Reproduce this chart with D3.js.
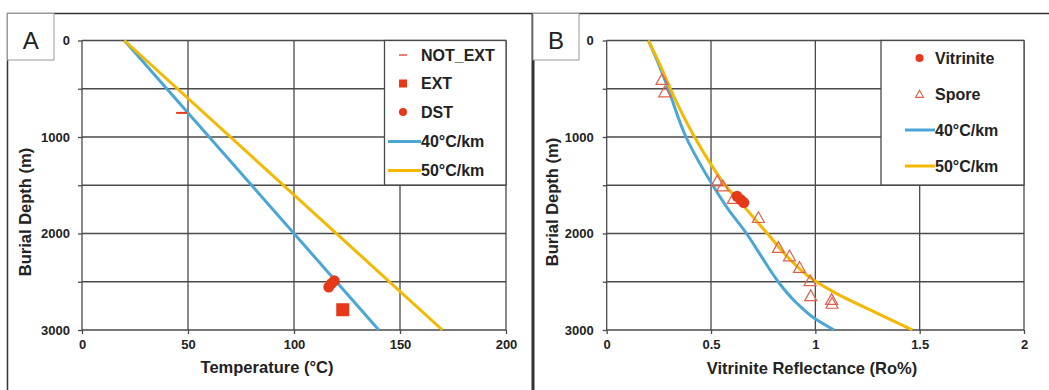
<!DOCTYPE html>
<html>
<head>
<meta charset="utf-8">
<script src="https://cdn.jsdelivr.net/npm/d3@7"></script>
<style>
  body { margin: 0; background: #fff; }
  text { font-family: "Liberation Sans", Arial, sans-serif; fill: #222; }
</style>
</head>
<body>
<svg id="chart" width="1049" height="390"></svg>
<script>
// PANEL A DATA: temperature vs burial depth
var depthTicks = [0, 500, 1000, 1500, 2000, 2500, 3000];
var tempTicks = [0, 50, 100, 150, 200];
var grad40Temp = [{t: 20, d: 0}, {t: 140, d: 3000}];
var grad50Temp = [{t: 20, d: 0}, {t: 170, d: 3000}];
var notExt = [{t: 47, d: 750}];
var ext = [{t: 123, d: 2790}];
var dst = [{t: 119, d: 2490}, {t: 117.6, d: 2520}, {t: 116.4, d: 2555}];

// PANEL B DATA: vitrinite reflectance vs burial depth
var roTicks = [0, 0.5, 1, 1.5, 2];
var grad40Ro = [
  {r: 0.2, d: 0}, {r: 0.25, d: 250}, {r: 0.295, d: 500}, {r: 0.335, d: 750},
  {r: 0.38, d: 1000}, {r: 0.44, d: 1250}, {r: 0.508, d: 1500}, {r: 0.583, d: 1750},
  {r: 0.67, d: 2000}, {r: 0.745, d: 2250}, {r: 0.79, d: 2400}, {r: 0.822, d: 2500},
  {r: 0.91, d: 2720}, {r: 0.99, d: 2870}, {r: 1.09, d: 3000}
];
var grad50Ro = [
  {r: 0.2, d: 0}, {r: 0.255, d: 250}, {r: 0.305, d: 500}, {r: 0.36, d: 750},
  {r: 0.421, d: 1000}, {r: 0.49, d: 1250}, {r: 0.568, d: 1500}, {r: 0.67, d: 1750},
  {r: 0.77, d: 2000}, {r: 0.87, d: 2250}, {r: 0.99, d: 2480}, {r: 1.1, d: 2620},
  {r: 1.31, d: 2840}, {r: 1.465, d: 3000}
];
var vitrinite = [{r: 0.625, d: 1615}, {r: 0.642, d: 1650}, {r: 0.657, d: 1680}];
var spore = [
  {r: 0.265, d: 410}, {r: 0.278, d: 540}, {r: 0.53, d: 1462}, {r: 0.556, d: 1514},
  {r: 0.607, d: 1644}, {r: 0.727, d: 1841}, {r: 0.823, d: 2151}, {r: 0.876, d: 2238},
  {r: 0.924, d: 2358}, {r: 0.975, d: 2496}, {r: 0.978, d: 2651}, {r: 1.078, d: 2690},
  {r: 1.08, d: 2730}
];

// COLOURS
var BLUE = "#4ba6d6", YELLOW = "#f3b800", RED = "#e5391a", SPORE = "#e0604e", GRID = "#4a4a4a";

var svg = d3.select("#chart");

// frame round both panels
svg.append("line").attr("x1", 7).attr("x2", 1049).attr("y1", 13.5).attr("y2", 13.5)
  .attr("stroke", "#333").attr("stroke-width", 1.5);
svg.append("line").attr("x1", 7.5).attr("x2", 7.5).attr("y1", 13).attr("y2", 390)
  .attr("stroke", "#333").attr("stroke-width", 1.5);
svg.append("line").attr("x1", 533).attr("x2", 533).attr("y1", 13).attr("y2", 390)
  .attr("stroke", "#333").attr("stroke-width", 3);

function drawPanel(p) {
  var g = svg.append("g");
  var x = d3.scaleLinear().domain(p.xDomain).range(p.xRange);
  var y = d3.scaleLinear().domain([0, 3000]).range([40.5, 330]);

  // panel letter
  g.append("rect").attr("x", p.box[0]).attr("y", 13.5).attr("width", p.box[1] - p.box[0]).attr("height", 46.5)
    .attr("fill", "#fff").attr("stroke", "#999").attr("stroke-width", 1);
  g.append("text").attr("x", (p.box[0] + p.box[1]) / 2).attr("y", 48.5)
    .attr("text-anchor", "middle").style("font-size", "24px").text(p.letter);

  // grid
  g.selectAll(".vgrid").data(p.xTicks).join("line")
    .attr("x1", d => x(d)).attr("x2", d => x(d)).attr("y1", y(0)).attr("y2", y(3000))
    .attr("stroke", GRID).attr("stroke-width", 1.3);
  g.selectAll(".hgrid").data(depthTicks).join("line")
    .attr("x1", x.range()[0]).attr("x2", x.range()[1]).attr("y1", d => y(d)).attr("y2", d => y(d))
    .attr("stroke", GRID).attr("stroke-width", 1.3);

  // axes
  var xAxis = g.append("g").attr("transform", "translate(0," + y(3000) + ")")
    .call(d3.axisBottom(x).tickValues(p.xTicks).tickSize(4).tickPadding(6).tickFormat(d => d));
  var yAxis = g.append("g").attr("transform", "translate(" + x.range()[0] + ",0)")
    .call(d3.axisLeft(y).tickValues(depthTicks).tickSize(4).tickPadding(p.yPad)
      .tickFormat(d => d % 1000 === 0 ? d : ""));
  [xAxis, yAxis].forEach(function(a) {
    a.select(".domain").remove();
    a.selectAll("line").attr("stroke", GRID).attr("stroke-width", 1.3);
    a.selectAll("text").style("font-size", "13px").style("font-weight", "bold").attr("fill", "#222");
  });

  g.append("text").attr("x", p.xTitle[0]).attr("y", p.xTitle[1]).attr("text-anchor", "middle")
    .style("font-size", "16.5px").style("font-weight", "bold").text(p.xLabel);
  g.append("text").attr("transform", "translate(" + p.yTitle[0] + "," + p.yTitle[1] + ") rotate(-90)")
    .attr("text-anchor", "middle").attr("dy", "0.35em")
    .style("font-size", "16.5px").style("font-weight", "bold").text("Burial Depth (m)");

  // lines
  var line = d3.line().x(d => x(d[p.key])).y(d => y(d.d)).curve(d3.curveMonotoneY);
  g.append("path").datum(p.line40).attr("d", line).attr("fill", "none")
    .attr("stroke", BLUE).attr("stroke-width", 3);
  g.append("path").datum(p.line50).attr("d", line).attr("fill", "none")
    .attr("stroke", YELLOW).attr("stroke-width", 3);

  // legend box
  var lg = g.append("g");
  lg.append("rect").attr("x", p.legend.x).attr("y", y(0)).attr("width", x.range()[1] - p.legend.x)
    .attr("height", 144.5).attr("fill", "#fff").attr("stroke", GRID).attr("stroke-width", 1.3);
  p.legend.items.forEach(function(it) {
    lg.append("text").attr("x", p.legend.textX).attr("y", it.y).attr("dy", "0.35em")
      .style("font-size", "16px").style("font-weight", "bold").text(it.label);
    it.draw(lg, p.legend.markX, it.y);
  });

  return {g: g, x: x, y: y};
}

function legendLine(color, x1, x2) {
  return function(sel, mx, my) {
    sel.append("line").attr("x1", x1).attr("x2", x2).attr("y1", my).attr("y2", my)
      .attr("stroke", color).attr("stroke-width", 3);
  };
}
function triPath(cx, cy, s) {
  var h = s * 0.9;
  return "M" + cx + "," + (cy - h * 0.6) + "L" + (cx + s / 2) + "," + (cy + h * 0.4) +
    "L" + (cx - s / 2) + "," + (cy + h * 0.4) + "Z";
}

// PANEL A
var A = drawPanel({
  letter: "A", box: [7.5, 54], key: "t",
  xDomain: [0, 200], xRange: [82, 506], xTicks: tempTicks, yPad: 8,
  xLabel: "Temperature (°C)", xTitle: [267, 373], yTitle: [25, 212],
  line40: grad40Temp, line50: grad50Temp,
  legend: {
    x: 384.5, textX: 421, markX: 403,
    items: [
      {label: "NOT_EXT", y: 55, draw: function(s, mx, my) {
        s.append("line").attr("x1", mx - 4).attr("x2", mx + 4).attr("y1", my).attr("y2", my)
          .attr("stroke", SPORE).attr("stroke-width", 1.6); }},
      {label: "EXT", y: 83.5, draw: function(s, mx, my) {
        s.append("rect").attr("x", mx - 4).attr("y", my - 4).attr("width", 8).attr("height", 8).attr("fill", RED); }},
      {label: "DST", y: 112, draw: function(s, mx, my) {
        s.append("circle").attr("cx", mx).attr("cy", my).attr("r", 4).attr("fill", RED); }},
      {label: "40°C/km", y: 141.5, draw: legendLine(BLUE, 388, 421)},
      {label: "50°C/km", y: 170.5, draw: legendLine(YELLOW, 388, 421)}
    ]
  }
});

A.g.selectAll(".notext").data(notExt).join("line")
  .attr("x1", d => A.x(d.t) - 5.5).attr("x2", d => A.x(d.t) + 5.5)
  .attr("y1", d => A.y(d.d)).attr("y2", d => A.y(d.d))
  .attr("stroke", RED).attr("stroke-width", 2);
A.g.selectAll(".ext").data(ext).join("rect")
  .attr("x", d => A.x(d.t) - 6.5).attr("y", d => A.y(d.d) - 6.5)
  .attr("width", 13).attr("height", 13).attr("fill", RED);
A.g.selectAll(".dst").data(dst).join("circle")
  .attr("cx", d => A.x(d.t)).attr("cy", d => A.y(d.d)).attr("r", 5.5).attr("fill", RED);

// PANEL B
var B = drawPanel({
  letter: "B", box: [533, 579], key: "r",
  xDomain: [0, 2], xRange: [606.7, 1024], xTicks: roTicks, yPad: 9,
  xLabel: "Vitrinite Reflectance (Ro%)", xTitle: [812, 374], yTitle: [552, 202],
  line40: grad40Ro, line50: grad50Ro,
  legend: {
    x: 881, textX: 935, markX: 919.5,
    items: [
      {label: "Vitrinite", y: 58, draw: function(s, mx, my) {
        s.append("circle").attr("cx", mx).attr("cy", my).attr("r", 4).attr("fill", RED); }},
      {label: "Spore", y: 94.5, draw: function(s, mx, my) {
        s.append("path").attr("d", triPath(mx, my, 8)).attr("fill", "none")
          .attr("stroke", SPORE).attr("stroke-width", 1.1); }},
      {label: "40°C/km", y: 130, draw: legendLine(BLUE, 905, 935)},
      {label: "50°C/km", y: 166, draw: legendLine(YELLOW, 905, 935)}
    ]
  }
});

B.g.selectAll(".spore").data(spore).join("path")
  .attr("d", d => triPath(B.x(d.r), B.y(d.d), 12)).attr("fill", "none")
  .attr("stroke", SPORE).attr("stroke-width", 1.2);
B.g.selectAll(".vit").data(vitrinite).join("circle")
  .attr("cx", d => B.x(d.r)).attr("cy", d => B.y(d.d)).attr("r", 5.5).attr("fill", RED);
</script>
</body>
</html>
